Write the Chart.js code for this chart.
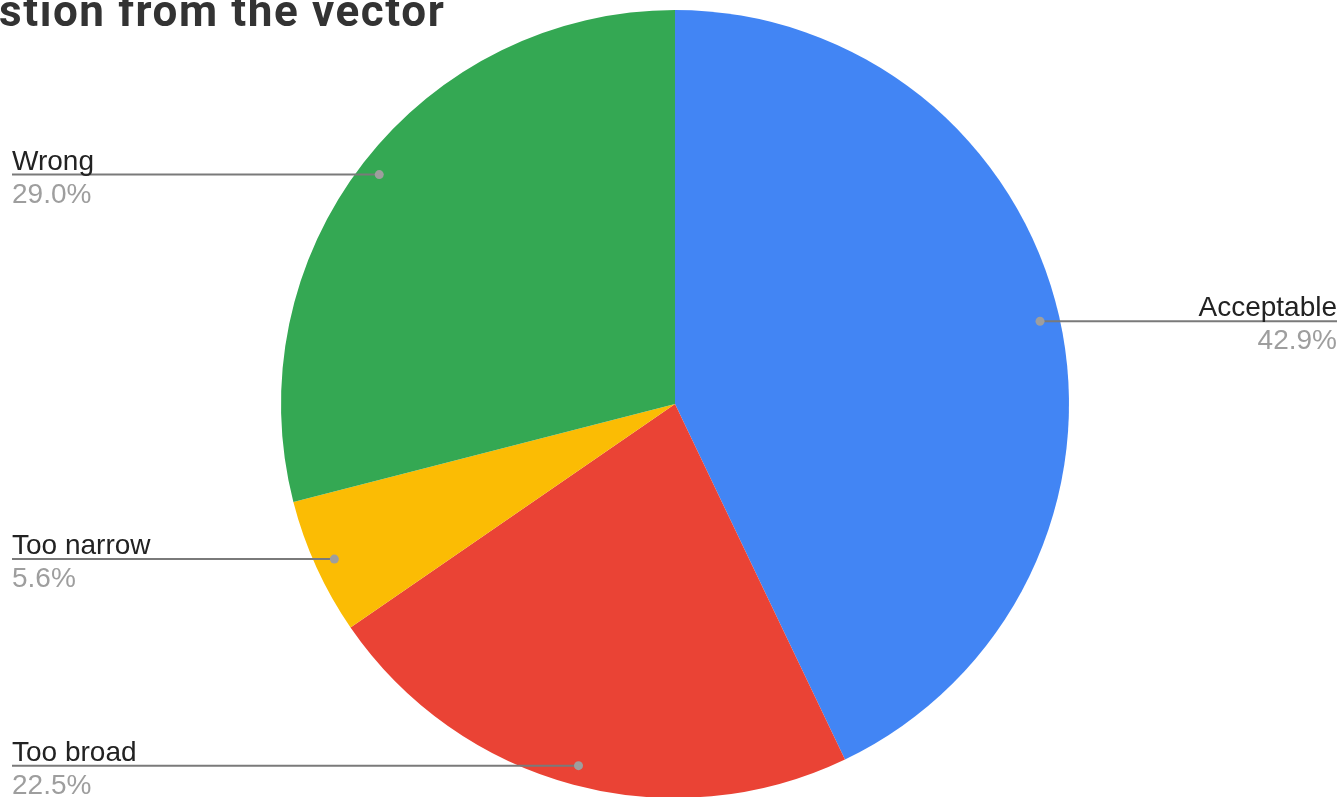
<!DOCTYPE html>
<html>
<head>
<meta charset="utf-8">
<script src="https://cdn.jsdelivr.net/npm/chart.js@4"></script>
<style>
html,body{margin:0;padding:0;background:#fff;overflow:hidden;}
#wrap{width:1341px;height:797px;overflow:hidden;position:relative;}
canvas{display:block;}
</style>
</head>
<body>
<div id="wrap"><canvas id="c" width="1341" height="800"></canvas></div>
<script>
const titleText = "stion from the vector";
const categories = ["Acceptable", "Too broad", "Too narrow", "Wrong"];
const values = [42.9, 22.5, 5.6, 29.0];
const colors = ["#4285F4", "#EA4335", "#FBBC04", "#34A853"];
const labelSide = ["right", "left", "left", "left"];

const labelPlugin = {
  id: 'sideLabels',
  afterDraw(chart) {
    const ctx = chart.ctx;
    const meta = chart.getDatasetMeta(0);
    const W = chart.width;
    ctx.save();
    // title (clipped at top-left)
    ctx.font = "bold 44px Roboto";
    if ('letterSpacing' in ctx) ctx.letterSpacing = "1.6px";
    ctx.fillStyle = "#333333";
    ctx.textAlign = "left";
    ctx.textBaseline = "alphabetic";
    ctx.fillText(titleText, -1, 26);
    if ('letterSpacing' in ctx) ctx.letterSpacing = "0px";

    meta.data.forEach((arc, i) => {
      const p = arc.getProps(['x','y','startAngle','endAngle','outerRadius'], true);
      const mid = (p.startAngle + p.endAngle) / 2;
      const r = p.outerRadius * 0.95;
      const dx = p.x + Math.cos(mid) * r;
      const dy = p.y + Math.sin(mid) * r;
      const right = labelSide[i] === "right";
      const xEnd = right ? W - 4 : 12;
      // leader line
      ctx.strokeStyle = "#7a7a7a";
      ctx.lineWidth = 2;
      ctx.beginPath();
      ctx.moveTo(dx, dy);
      ctx.lineTo(xEnd, dy);
      ctx.stroke();
      // dot
      ctx.fillStyle = "#9e9e9e";
      ctx.beginPath();
      ctx.arc(dx, dy, 4.5, 0, Math.PI * 2);
      ctx.fill();
      // texts
      ctx.textAlign = right ? "right" : "left";
      ctx.font = "28px 'Liberation Sans', Arial, sans-serif";
      ctx.fillStyle = "#222222";
      ctx.fillText(categories[i], xEnd, dy - 5);
      ctx.fillStyle = "#9e9e9e";
      ctx.fillText(values[i].toFixed(1) + "%", xEnd, dy + 28);
    });
    ctx.restore();
  }
};

new Chart(document.getElementById('c'), {
  type: 'pie',
  data: {
    labels: categories,
    datasets: [{
      data: values,
      backgroundColor: colors,
      borderWidth: 0,
      hoverOffset: 0
    }]
  },
  options: {
    responsive: false,
    animation: false,
    layout: { padding: { left: 9, right: 0, top: 10, bottom: 2 } },
    plugins: {
      legend: { display: false },
      tooltip: { enabled: false },
      title: { display: false }
    }
  },
  plugins: [labelPlugin]
});
</script>
</body>
</html>
